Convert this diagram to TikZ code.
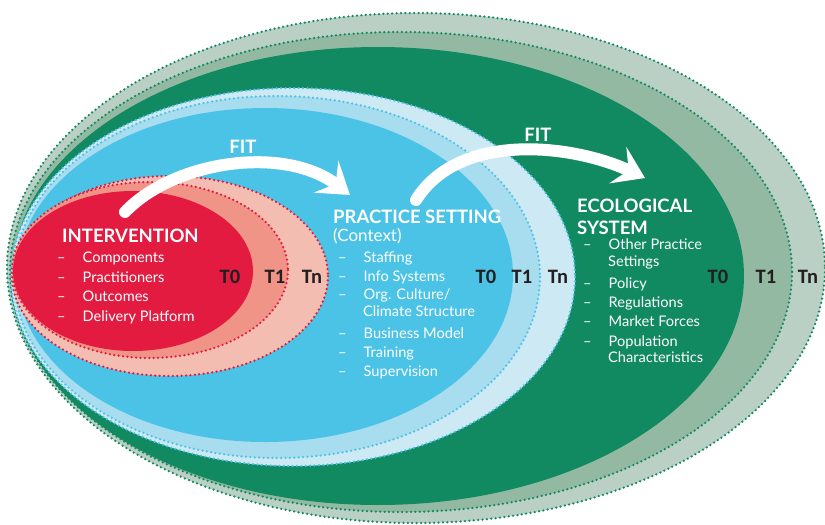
\documentclass[tikz,border=0pt]{standalone}
\usepackage{fontspec}
\setmainfont{Lato}
\newfontfamily\timefont{Carlito}
\usepackage{xcolor}
\usetikzlibrary{
  arrows.meta,
  positioning
}

\definecolor{ecoDark}{RGB}{17,137,97}
\definecolor{ecoMid}{RGB}{147,185,162}
\definecolor{ecoLight}{RGB}{186,208,196}
\definecolor{ctxDark}{RGB}{75,195,230}
\definecolor{ctxMid}{RGB}{168,221,240}
\definecolor{ctxLight}{RGB}{205,233,244}
\definecolor{intDark}{RGB}{227,27,64}
\definecolor{intMid}{RGB}{239,148,134}
\definecolor{intLight}{RGB}{244,189,178}
\definecolor{timeText}{RGB}{35,31,32}

\newcommand{\listdash}{\makebox[25.5pt][l]{--}}

\begin{document}
\begin{tikzpicture}[x=1pt, y=-1pt,
  rim/.style={line width=2.5pt, line cap=round, dash pattern=on 0pt off 4.4pt},
  heading/.style={anchor=base west, inner sep=0pt, text=white,
    font=\bfseries\fontsize{18.5}{22}\selectfont},
  entry/.style={anchor=base west, inner sep=0pt, text=white,
    font=\fontsize{14.6}{17}\selectfont},
  tlabel/.style={anchor=base, inner sep=0pt, text=timeText,
    font=\timefont\bfseries\fontsize{20.5}{22}\selectfont},
  fitarrow/.style={white, line width=12pt, line cap=round,
    -{Stealth[length=30pt, width=40pt, inset=12pt]}}
]

\useasboundingbox (0,0) rectangle (825,525);

% Ecological system: Tn, T1, T0
\path[fill=ecoLight, draw=ecoDark, rim] (416,268) ellipse [x radius=409, y radius=255];
\path[fill=ecoMid, draw=ecoDark, rim] (401,272) ellipse [x radius=391, y radius=240];
\fill[ecoDark] (378,276) ellipse [x radius=366, y radius=229];

% Practice setting: Tn, T1, T0
\path[fill=ctxLight, draw=ctxDark, rim] (293,277) ellipse [x radius=282, y radius=189];
\path[fill=ctxMid, draw=ctxDark, rim] (277,277) ellipse [x radius=263, y radius=181];
\fill[ctxDark] (265,275) ellipse [x radius=248, y radius=167];

% Intervention: Tn, T1, T0
\path[fill=intLight, draw=intDark, rim] (170,276) ellipse [x radius=158, y radius=100];
\path[fill=intMid, draw=intDark, rim] (150,270) ellipse [x radius=138, y radius=88];
\fill[intDark] (133,271) ellipse [x radius=120, y radius=80];

% Fit arrows
\coordinate (fit1 start) at (125,212);
\coordinate (fit1 end) at (350,195);
\coordinate (fit2 start) at (416,200);
\coordinate (fit2 end) at (645,178);
\draw[fitarrow] (fit1 start) .. controls (175,160) and (285,145) .. (fit1 end);
\draw[fitarrow] (fit2 start) .. controls (460,130) and (575,145) .. (fit2 end);
\node[heading, anchor=base] (fit1) at (243,153) {FIT};
\node[heading, anchor=base] (fit2) at (538,141) {FIT};

% Intervention labels
\node[heading] (int-title) at (62,242) {INTERVENTION};
\node[entry] (int-comp) at (57,262) {\listdash Components};
\node[entry] (int-prac) at (57,282) {\listdash Practitioners};
\node[entry] (int-out) at (57,301) {\listdash Outcomes};
\node[entry] (int-deliv) at (57,321) {\listdash Delivery Platform};

% Practice setting labels
\node[heading] (ctx-title) at (333,223) {PRACTICE SETTING};
\node[entry, font=\fontsize{17}{18}\selectfont] (ctx-sub) at (333,241) {(Context)};
\node[entry] (ctx-staff) at (338,262) {\listdash Staffing};
\node[entry] (ctx-info) at (338,281) {\listdash Info Systems};
\node[entry] (ctx-org) at (338,299) {\listdash Org. Culture/};
\node[entry] (ctx-clim) at (363,316) {Climate Structure};
\node[entry] (ctx-bus) at (338,338) {\listdash Business Model};
\node[entry] (ctx-train) at (338,357) {\listdash Training};
\node[entry] (ctx-sup) at (338,376) {\listdash Supervision};

% Ecological system labels
\node[heading] (eco-title) at (577,212) {ECOLOGICAL};
\node[heading] (eco-title2) at (577,234) {SYSTEM};
\node[entry] (eco-other) at (583,249) {\listdash Other Practice};
\node[entry] (eco-set) at (608,266) {Settings};
\node[entry] (eco-pol) at (583,288) {\listdash Policy};
\node[entry] (eco-reg) at (583,307) {\listdash Regulations};
\node[entry] (eco-mkt) at (583,326) {\listdash Market Forces};
\node[entry] (eco-pop) at (583,346) {\listdash Population};
\node[entry] (eco-char) at (608,362) {Characteristics};

% Time points
\node[tlabel] (int-t0) at (230,283) {T0};
\node[tlabel] (int-t1) at (275,283) {T1};
\node[tlabel] (int-tn) at (312,283) {Tn};
\node[tlabel] (ctx-t0) at (486,283) {T0};
\node[tlabel] (ctx-t1) at (522,283) {T1};
\node[tlabel] (ctx-tn) at (558,283) {Tn};
\node[tlabel] (eco-t0) at (718,283) {T0};
\node[tlabel] (eco-t1) at (766,283) {T1};
\node[tlabel] (eco-tn) at (808,283) {Tn};

\end{tikzpicture}
\end{document}
